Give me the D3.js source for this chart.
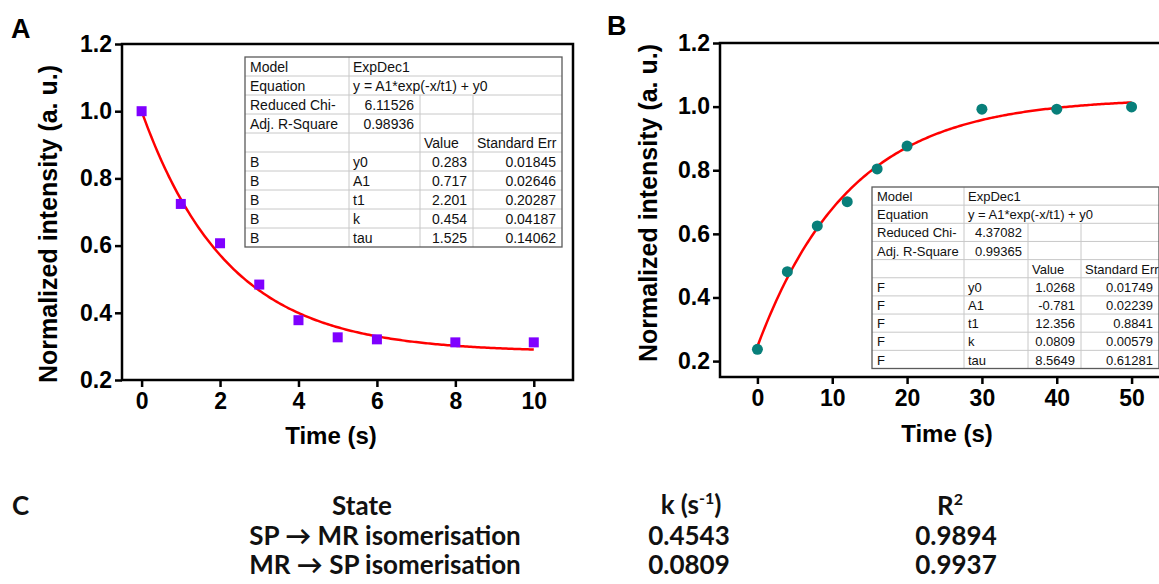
<!DOCTYPE html>
<html>
<head>
<meta charset="utf-8">
<script src="https://cdn.jsdelivr.net/npm/d3@7"></script>
<style>
body { margin: 0; background: #fff; }
svg { display: block; }
</style>
</head>
<body>
<script>
// panel A: SP -> MR decay
var timeA = [0, 1, 2, 3, 4, 5, 6, 8, 10];
var intensityA = [1.0, 0.724, 0.607, 0.484, 0.378, 0.327, 0.321, 0.312, 0.312];
// panel B: MR -> SP recovery
var timeB = [0, 4, 8, 12, 16, 20, 30, 40, 50];
var intensityB = [0.237, 0.481, 0.625, 0.701, 0.804, 0.876, 0.992, 0.992, 0.999];

var xTicksA = [0, 2, 4, 6, 8, 10];
var xTicksB = [0, 10, 20, 30, 40, 50];
var yTicks = [0.2, 0.4, 0.6, 0.8, 1.0, 1.2];

// fit report tables (model, equation, reduced chi, adj R2)
var fitInfoA = ["ExpDec1", "y = A1*exp(-x/t1) + y0", "6.11526", "0.98936"];
var fitParamsA = [
    ["B", "y0", "0.283", "0.01845"],
    ["B", "A1", "0.717", "0.02646"],
    ["B", "t1", "2.201", "0.20287"],
    ["B", "k", "0.454", "0.04187"],
    ["B", "tau", "1.525", "0.14062"]
];
var fitInfoB = ["ExpDec1", "y = A1*exp(-x/t1) + y0", "4.37082", "0.99365"];
var fitParamsB = [
    ["F", "y0", "1.0268", "0.01749"],
    ["F", "A1", "-0.781", "0.02239"],
    ["F", "t1", "12.356", "0.8841"],
    ["F", "k", "0.0809", "0.00579"],
    ["F", "tau", "8.5649", "0.61281"]
];

// panel C summary
var summaryStates = ["SP \u2192 MR isomerisation", "MR \u2192 SP isomerisation"];
var summaryK = ["0.4543", "0.0809"];
var summaryR2 = ["0.9894", "0.9937"];

var W = 1159, H = 584;
var chartFont = "'Liberation Sans', Arial, sans-serif";
var textFont = "Lato, 'Open Sans', sans-serif";

var svg = d3.select("body").append("svg")
    .attr("width", W)
    .attr("height", H);
svg.append("rect").attr("width", W).attr("height", H).attr("fill", "#fff");

function param(rows, name) {
    var r = rows.find(function(d) { return d[1] === name; });
    return parseFloat(r[2]);
}

function drawTable(g, x0, y0, colW, rowH, fs, info, params) {
    var cx = [x0];
    colW.forEach(function(w, i) { cx.push(cx[i] + w); });
    var right = cx[4], bottom = y0 + rowH * 10;
    var t = g.append("g").attr("font-family", chartFont).attr("font-size", fs);
    t.append("rect")
        .attr("x", x0).attr("y", y0)
        .attr("width", right - x0).attr("height", bottom - y0)
        .attr("fill", "#fff");
    var lines = t.append("g").attr("stroke", "#c8c8c8").attr("stroke-width", 1);
    for (var r = 1; r < 10; r++) {
        lines.append("line").attr("x1", x0).attr("x2", right)
            .attr("y1", y0 + r * rowH).attr("y2", y0 + r * rowH);
    }
    lines.append("line").attr("x1", cx[1]).attr("x2", cx[1]).attr("y1", y0).attr("y2", bottom);
    [2, 3].forEach(function(c) {
        lines.append("line").attr("x1", cx[c]).attr("x2", cx[c])
            .attr("y1", y0 + 2 * rowH).attr("y2", bottom);
    });
    t.append("rect")
        .attr("x", x0).attr("y", y0)
        .attr("width", right - x0).attr("height", bottom - y0)
        .attr("fill", "none").attr("stroke", "#5a5a5a").attr("stroke-width", 1.3);

    var base = rowH * 0.78;
    function cell(row, col, txt, align) {
        var x = align === "end" ? cx[col + 1] - 6 : cx[col] + (col === 0 ? 5 : 4);
        t.append("text")
            .attr("x", x).attr("y", y0 + row * rowH + base)
            .attr("text-anchor", align || "start")
            .attr("fill", "#111")
            .text(txt);
    }
    cell(0, 0, "Model"); cell(0, 1, info[0]);
    cell(1, 0, "Equation"); cell(1, 1, info[1]);
    cell(2, 0, "Reduced Chi-"); cell(2, 1, info[2], "end");
    cell(3, 0, "Adj. R-Square"); cell(3, 1, info[3], "end");
    cell(4, 2, "Value"); cell(4, 3, "Standard Err");
    params.forEach(function(p, i) {
        cell(5 + i, 0, p[0]);
        cell(5 + i, 1, p[1]);
        cell(5 + i, 2, p[2], "end");
        cell(5 + i, 3, p[3], "end");
    });
}

function drawPanel(o) {
    var g = svg.append("g");
    var x = d3.scaleLinear().domain(o.xDomain).range([o.left, o.right]);
    var y = d3.scaleLinear().domain(o.yDomain).range([o.bottom, o.top]);

    var xAxis = g.append("g")
        .attr("transform", "translate(0," + o.bottom + ")")
        .call(d3.axisBottom(x).tickValues(o.xTicks).tickSize(7).tickSizeOuter(0)
            .tickPadding(6).tickFormat(d3.format("d")));
    var yAxis = g.append("g")
        .attr("transform", "translate(" + o.left + ",0)")
        .call(d3.axisLeft(y).tickValues(yTicks).tickSize(7).tickSizeOuter(0)
            .tickPadding(3).tickFormat(d3.format(".1f")));
    [xAxis, yAxis].forEach(function(a) {
        a.select(".domain").remove();
        a.attr("font-family", chartFont).attr("font-size", 23).attr("font-weight", "bold");
        a.selectAll(".tick line").attr("stroke", "#000").attr("stroke-width", 2.5);
        a.selectAll(".tick text").attr("fill", "#000");
    });

    g.append("rect")
        .attr("x", o.left).attr("y", o.top)
        .attr("width", o.right - o.left).attr("height", o.bottom - o.top)
        .attr("fill", "none").attr("stroke", "#000").attr("stroke-width", 2.5);

    // fitted ExpDec1 curve from the reported parameters
    var y0 = param(o.params, "y0"), a1 = param(o.params, "A1"), t1 = param(o.params, "t1");
    var tMax = d3.max(o.time);
    var fit = d3.range(0, tMax + 1e-9, tMax / 200).map(function(t) {
        return [t, a1 * Math.exp(-t / t1) + y0];
    });
    g.append("path")
        .datum(fit)
        .attr("fill", "none")
        .attr("stroke", "#ff0000")
        .attr("stroke-width", 2.5)
        .attr("d", d3.line().x(function(d) { return x(d[0]); }).y(function(d) { return y(d[1]); }));

    var pts = o.time.map(function(t, i) { return [t, o.values[i]]; });
    if (o.marker === "square") {
        g.selectAll("rect.pt").data(pts).enter().append("rect")
            .attr("class", "pt")
            .attr("x", function(d) { return x(d[0]) - 5; })
            .attr("y", function(d) { return y(d[1]) - 5; })
            .attr("width", 10).attr("height", 10)
            .attr("fill", o.color);
    } else {
        g.selectAll("circle.pt").data(pts).enter().append("circle")
            .attr("class", "pt")
            .attr("cx", function(d) { return x(d[0]); })
            .attr("cy", function(d) { return y(d[1]); })
            .attr("r", 5.5)
            .attr("fill", o.color);
    }

    drawTable(g, o.table.x, o.table.y, o.table.cols, o.table.rowH, o.table.fs, o.info, o.params);

    g.append("text")
        .attr("transform", "translate(" + o.yTitle[0] + "," + o.yTitle[1] + ") rotate(-90)")
        .attr("text-anchor", "middle")
        .attr("font-family", chartFont).attr("font-weight", "bold").attr("font-size", 25)
        .text("Normalized intensity (a. u.)");
    g.append("text")
        .attr("x", o.xTitle[0]).attr("y", o.xTitle[1])
        .attr("text-anchor", "middle")
        .attr("font-family", chartFont).attr("font-weight", "bold").attr("font-size", 24)
        .text("Time (s)");
    g.append("text")
        .attr("x", o.label[0]).attr("y", o.label[1])
        .attr("font-family", chartFont).attr("font-weight", "bold").attr("font-size", 27)
        .text(o.label[2]);
}

drawPanel({
    left: 122, right: 573, top: 44, bottom: 380,
    xDomain: [-0.5, 11], yDomain: [0.2, 1.2], xTicks: xTicksA,
    time: timeA, values: intensityA, marker: "square", color: "#7f00ff",
    info: fitInfoA, params: fitParamsA,
    table: { x: 245, y: 57, cols: [104, 71, 53, 89], rowH: 19, fs: 14 },
    yTitle: [57, 224], xTitle: [331, 444], label: [11, 38, "A"]
});

drawPanel({
    left: 720, right: 1169, top: 43, bottom: 377,
    xDomain: [-5, 55], yDomain: [0.15, 1.2], xTicks: xTicksB,
    time: timeB, values: intensityB, marker: "circle", color: "#087f7a",
    info: fitInfoB, params: fitParamsB,
    table: { x: 872, y: 187, cols: [92, 64, 53, 78], rowH: 18.15, fs: 13 },
    yTitle: [657, 203], xTitle: [947, 442], label: [607, 35, "B"]
});

// panel C: summary table
var c = svg.append("g")
    .attr("font-family", textFont)
    .attr("font-weight", "bold")
    .attr("font-size", 26)
    .attr("fill", "#111");
c.append("text").attr("x", 12).attr("y", 515).text("C");
c.append("text").attr("x", 362).attr("y", 515).attr("text-anchor", "middle").text("State");
var kh = c.append("text").attr("x", 691).attr("y", 514).attr("text-anchor", "middle");
kh.append("tspan").text("k (s");
kh.append("tspan").attr("dy", -10).attr("font-size", 16).text("-1");
kh.append("tspan").attr("dy", 10).text(")");
var rh = c.append("text").attr("x", 950).attr("y", 515).attr("text-anchor", "middle");
rh.append("tspan").text("R");
rh.append("tspan").attr("dy", -10).attr("font-size", 16).text("2");

var rowY = [545, 574];
summaryStates.forEach(function(s, i) {
    c.append("text").attr("x", 385).attr("y", rowY[i]).attr("text-anchor", "middle").text(s);
    c.append("text").attr("x", 689).attr("y", rowY[i]).attr("text-anchor", "middle").text(summaryK[i]);
    c.append("text").attr("x", 956).attr("y", rowY[i]).attr("text-anchor", "middle").text(summaryR2[i]);
});
</script>
</body>
</html>
